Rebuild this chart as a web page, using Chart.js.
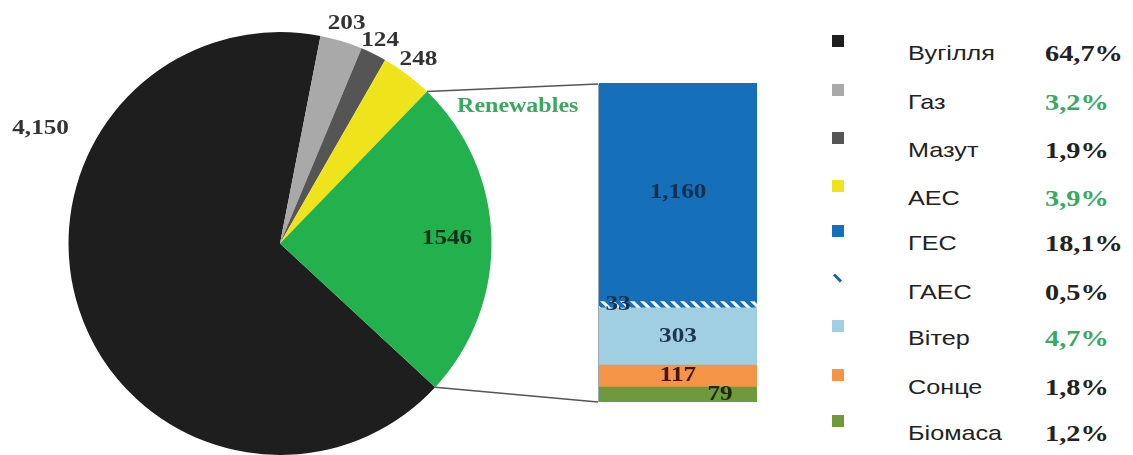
<!DOCTYPE html>
<html>
<head>
<meta charset="utf-8">
<script src="https://cdn.jsdelivr.net/npm/chart.js@4.4.0/dist/chart.umd.min.js"></script>
<style>
  body { margin: 0; background: #fff; width: 1133px; height: 455px; overflow: hidden; position: relative; }
  #pieBox { position: absolute; left: 0; top: 0; width: 600px; height: 455px; }
  #barBox { position: absolute; left: 599px; top: 83px; width: 158px; height: 319px; }
  .mark { position: absolute; width: 12px; height: 12px; }
  .name { position: absolute; left: 908px; font: 21px "Liberation Sans", Arial, sans-serif; color: #222; line-height: 24px;
          transform: scaleX(1.2); transform-origin: left center; }
  .share { position: absolute; left: 1045px; font: bold 24px "Liberation Serif", "Times New Roman", serif; color: #222; line-height: 24px;
           transform: scaleX(1.18); transform-origin: left center; }
</style>
</head>
<body>
<div id="pieBox"><canvas id="pieChart"></canvas></div>
<div id="barBox"><canvas id="barChart"></canvas></div>
<div id="legend"></div>

<script>
// electricity generation by source
var sources = ['Вугілля', 'Газ', 'Мазут', 'АЕС', 'Renewables'];
var sourceValues = [4150, 203, 124, 248, 1546];
var sourceColors = ['#1e1e1e', '#a9a9a9', '#555555', '#efe31c', '#22b14c'];

// breakdown of the renewables slice, top of the bar first
var renewParts = ['ГЕС', 'ГАЕС', 'Вітер', 'Сонце', 'Біомаса'];
var renewValues = [1160, 33, 303, 117, 79];
var renewColors = ['#1570b9', 'hatch', '#9fcfe0', '#f39447', '#6e9a3c'];

// legend rows
var legendNames = ['Вугілля', 'Газ', 'Мазут', 'АЕС', 'ГЕС', 'ГАЕС', 'Вітер', 'Сонце', 'Біомаса'];
var legendShares = ['64,7%', '3,2%', '1,9%', '3,9%', '18,1%', '0,5%', '4,7%', '1,8%', '1,2%'];
var legendColors = ['#1e1e1e', '#a9a9a9', '#555555', '#efe31c', '#1570b9', 'slash', '#9fcfe0', '#f39447', '#6e9a3c'];
var greenShares = ['Газ', 'АЕС', 'Вітер'];

function fmt(v, grouped) {
    return grouped ? v.toLocaleString('en-US') : String(v);
}

// white/blue diagonal stripes for ГАЕС
function hatchPattern() {
    var c = document.createElement('canvas');
    c.width = 10; c.height = 10;
    var g = c.getContext('2d');
    g.fillStyle = '#ffffff';
    g.fillRect(0, 0, 10, 10);
    g.strokeStyle = '#1570b9';
    g.lineWidth = 4;
    g.beginPath();
    g.moveTo(-2, -2); g.lineTo(12, 12);
    g.moveTo(-2, 8); g.lineTo(2, 12);
    g.moveTo(8, -2); g.lineTo(12, 2);
    g.stroke();
    return g.createPattern(c, 'repeat');
}

// text helper, glyphs a little wider like the original typeface
function wideText(ctx, txt, x, y, font, color, align) {
    ctx.save();
    ctx.font = font;
    ctx.fillStyle = color;
    ctx.textBaseline = 'middle';
    var w = ctx.measureText(txt).width * 1.2;
    var left = align === 'left' ? x : x - w / 2;
    ctx.translate(left, y);
    ctx.scale(1.2, 1);
    ctx.textAlign = 'left';
    ctx.fillText(txt, 0, 0);
    ctx.restore();
}

var labelFont = 'bold 21px "Liberation Serif", serif';

// where each pie value sits: distance in radii, optional fixed angle (deg, clockwise from 3 o'clock)
var pieLabelPlace = [
    { dist: 1.255, angle: 205.6 },
    { dist: 1.085 },
    { dist: 1.07 },
    { dist: 1.09 },
    { dist: 0.79 }
];

var pieLabels = {
    id: 'pieLabels',
    afterDatasetsDraw: function(chart) {
        var ctx = chart.ctx;
        var arcs = chart.getDatasetMeta(0).data;
        arcs.forEach(function(arc, i) {
            var p = pieLabelPlace[i];
            var a = p.angle !== undefined ? p.angle * Math.PI / 180 : (arc.startAngle + arc.endAngle) / 2;
            var r = arc.outerRadius * p.dist;
            var x = arc.x + Math.cos(a) * r;
            var y = arc.y + Math.sin(a) * r;
            var txt = fmt(sourceValues[i], i !== 4);
            wideText(ctx, txt, x, y, labelFont, i === 4 ? '#10301a' : '#333333', 'center');
        });

        // connector box from the renewables slice to the bar
        var g = arcs[4];
        var x1 = g.x + Math.cos(g.startAngle) * g.outerRadius;
        var y1 = g.y + Math.sin(g.startAngle) * g.outerRadius;
        var x2 = g.x + Math.cos(g.endAngle) * g.outerRadius;
        var y2 = g.y + Math.sin(g.endAngle) * g.outerRadius;
        ctx.save();
        ctx.strokeStyle = '#555555';
        ctx.lineWidth = 1.5;
        ctx.beginPath();
        ctx.moveTo(x1, y1); ctx.lineTo(598, 84);
        ctx.moveTo(x2, y2); ctx.lineTo(598, 402);
        ctx.stroke();
        ctx.strokeStyle = '#9aa8b8';
        ctx.lineWidth = 1;
        ctx.beginPath();
        ctx.moveTo(598.5, 84); ctx.lineTo(598.5, 402);
        ctx.stroke();
        ctx.restore();

        wideText(ctx, 'Renewables', x1 + 30, y1 + 15, 'bold 20px "Liberation Serif", serif', '#3aa860', 'left');
    }
};

new Chart(document.getElementById('pieChart'), {
    type: 'pie',
    data: {
        labels: sources,
        datasets: [{
            data: sourceValues,
            backgroundColor: sourceColors,
            borderWidth: 0
        }]
    },
    options: {
        responsive: true,
        maintainAspectRatio: false,
        animation: false,
        rotation: 132.8,
        layout: { padding: { left: 68, right: 108, top: 32, bottom: 0 } },
        plugins: { legend: { display: false }, tooltip: { enabled: false } }
    },
    plugins: [pieLabels]
});

// labels inside the bar; small segments get nudged sideways
var barLabelShift = [0, -60, 0, 0, 42];
var barLabelColors = ['#14304f', '#14304f', '#1c3550', '#4a1500', '#1b2a10'];

var barLabels = {
    id: 'barLabels',
    afterDatasetsDraw: function(chart) {
        var ctx = chart.ctx;
        chart.data.datasets.forEach(function(ds, d) {
            var i = ds.partIndex;
            var el = chart.getDatasetMeta(d).data[0];
            var y = (el.y + el.base) / 2;
            wideText(ctx, fmt(renewValues[i], true), el.x + barLabelShift[i], y, labelFont, barLabelColors[i], 'center');
        });
    }
};

var hatch = hatchPattern();
var barSets = [];
for (var i = renewParts.length - 1; i >= 0; i--) {
    barSets.push({
        label: renewParts[i],
        partIndex: i,
        data: [renewValues[i]],
        backgroundColor: renewColors[i] === 'hatch' ? hatch : renewColors[i],
        borderWidth: 0,
        barPercentage: 1,
        categoryPercentage: 1
    });
}
var renewTotal = renewValues.reduce(function(a, b) { return a + b; }, 0);

new Chart(document.getElementById('barChart'), {
    type: 'bar',
    data: { labels: [''], datasets: barSets },
    options: {
        responsive: true,
        maintainAspectRatio: false,
        animation: false,
        layout: { padding: 0 },
        scales: {
            x: { stacked: true, display: false },
            y: { stacked: true, display: false, min: 0, max: renewTotal }
        },
        plugins: { legend: { display: false }, tooltip: { enabled: false } }
    },
    plugins: [barLabels]
});

// legend on the right
var rowsY = [53, 102, 150, 198, 243, 292, 338, 387, 433];
var legend = document.getElementById('legend');
legendNames.forEach(function(name, i) {
    var y = rowsY[i];
    var m = document.createElement('div');
    m.className = 'mark';
    if (legendColors[i] === 'slash') {
        m.style.left = '836px';
        m.style.top = (y - 19) + 'px';
        m.style.width = '3px';
        m.style.height = '10px';
        m.style.background = '#1f5f99';
        m.style.transform = 'rotate(-45deg)';
    } else {
        m.style.left = '832px';
        m.style.top = (y - 18) + 'px';
        m.style.background = legendColors[i];
    }
    legend.appendChild(m);

    var n = document.createElement('div');
    n.className = 'name';
    n.textContent = name;
    n.style.top = (y - 12) + 'px';
    legend.appendChild(n);

    var s = document.createElement('div');
    s.className = 'share';
    s.textContent = legendShares[i];
    s.style.top = (y - 12) + 'px';
    if (greenShares.indexOf(name) >= 0) s.style.color = '#3aa860';
    legend.appendChild(s);
});
</script>
</body>
</html>
